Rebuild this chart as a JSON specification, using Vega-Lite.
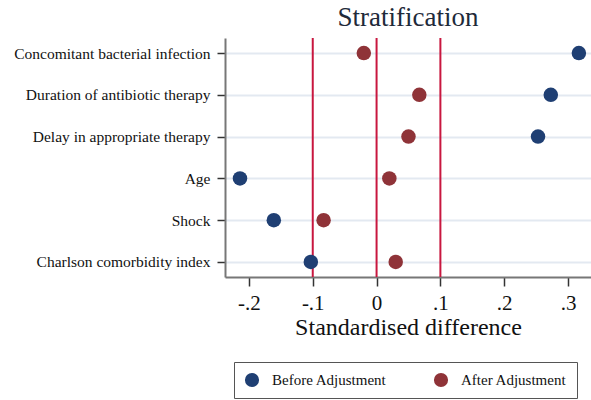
{
  "$schema": "https://vega.github.io/schema/vega-lite/v6.json",
  "autosize": {"type": "none"},
  "padding": {"left": 225, "top": 38, "right": 0, "bottom": 123},
  "width": 366,
  "height": 239,
  "background": "white",
  "title": {"text": "Stratification", "font": "Liberation Serif", "fontSize": 27, "fontWeight": "normal", "color": "#1e2a3a", "anchor": "middle", "offset": 5},
  "config": {"view": {"stroke": null}, "legend": {"strokeColor": "#555", "fillColor": "white"}},
  "datasets": {
    "pts": [
      {"variable": "Concomitant bacterial infection", "group": "Before Adjustment", "diff": 0.317},
      {"variable": "Concomitant bacterial infection", "group": "After Adjustment", "diff": -0.020},
      {"variable": "Duration of antibiotic therapy", "group": "Before Adjustment", "diff": 0.273},
      {"variable": "Duration of antibiotic therapy", "group": "After Adjustment", "diff": 0.067},
      {"variable": "Delay in appropriate therapy", "group": "Before Adjustment", "diff": 0.253},
      {"variable": "Delay in appropriate therapy", "group": "After Adjustment", "diff": 0.050},
      {"variable": "Age", "group": "Before Adjustment", "diff": -0.214},
      {"variable": "Age", "group": "After Adjustment", "diff": 0.020},
      {"variable": "Shock", "group": "Before Adjustment", "diff": -0.161},
      {"variable": "Shock", "group": "After Adjustment", "diff": -0.083},
      {"variable": "Charlson comorbidity index", "group": "Before Adjustment", "diff": -0.103},
      {"variable": "Charlson comorbidity index", "group": "After Adjustment", "diff": 0.030}
    ],
    "refs": [{"ref": -0.1}, {"ref": 0}, {"ref": 0.1}]
  },
  "layer": [
    {
      "data": {"name": "pts"},
      "mark": {"type": "circle", "opacity": 0, "size": 210},
      "encoding": {
        "y": {
          "field": "variable", "type": "nominal",
          "sort": ["Concomitant bacterial infection", "Duration of antibiotic therapy", "Delay in appropriate therapy", "Age", "Shock", "Charlson comorbidity index"],
          "scale": {"type": "point", "padding": 0.36},
          "axis": {"title": null, "labelFont": "Liberation Serif", "labelFontSize": 15.5, "labelLimit": 300, "labelColor": "#111", "tickSize": 8, "tickColor": "#333", "tickWidth": 1.5, "labelPadding": 7, "domainColor": "#777", "domainWidth": 2, "grid": true, "gridColor": "#e3e9f1", "gridWidth": 2}
        },
        "x": {
          "field": "diff", "type": "quantitative",
          "scale": {"domain": [-0.2375, 0.336], "nice": false, "zero": false},
          "axis": {"title": "Standardised difference", "titleFont": "Liberation Serif", "titleFontSize": 24, "titleFontWeight": "normal", "titleColor": "#111", "titlePadding": 2, "values": [-0.2, -0.1, 0, 0.1, 0.2, 0.3], "labelExpr": "datum.value == 0 ? '0' : (datum.value < 0 ? '-' : '') + replace(format(abs(datum.value), '.1f'), '0.', '.')", "labelFont": "Liberation Serif", "labelFontSize": 21, "labelColor": "#111", "labelPadding": 6, "tickSize": 9, "tickColor": "#333", "tickWidth": 1.5, "domainColor": "#777", "domainWidth": 2, "grid": false}
        },
        "color": {
          "field": "group", "type": "nominal",
          "sort": ["Before Adjustment", "After Adjustment"],
          "scale": {"domain": ["Before Adjustment", "After Adjustment"], "range": ["#1f3f73", "#8f3338"]},
          "legend": {"title": null, "orient": "none", "legendX": 9, "legendY": 324, "direction": "horizontal", "symbolType": "circle", "symbolSize": 200, "symbolOpacity": 1, "labelFont": "Liberation Serif", "labelFontSize": 15, "labelColor": "#111", "labelOffset": 12, "columnPadding": 46, "padding": 10}
        }
      }
    },
    {
      "data": {"name": "refs"},
      "mark": {"type": "rule", "color": "#c8173f", "strokeWidth": 2},
      "encoding": {"x": {"field": "ref", "type": "quantitative"}}
    },
    {
      "data": {"name": "pts"},
      "mark": {"type": "circle", "opacity": 1, "size": 210},
      "encoding": {
        "y": {"field": "variable", "type": "nominal", "sort": ["Concomitant bacterial infection", "Duration of antibiotic therapy", "Delay in appropriate therapy", "Age", "Shock", "Charlson comorbidity index"]},
        "x": {"field": "diff", "type": "quantitative"},
        "color": {"field": "group", "type": "nominal"}
      }
    }
  ]
}
